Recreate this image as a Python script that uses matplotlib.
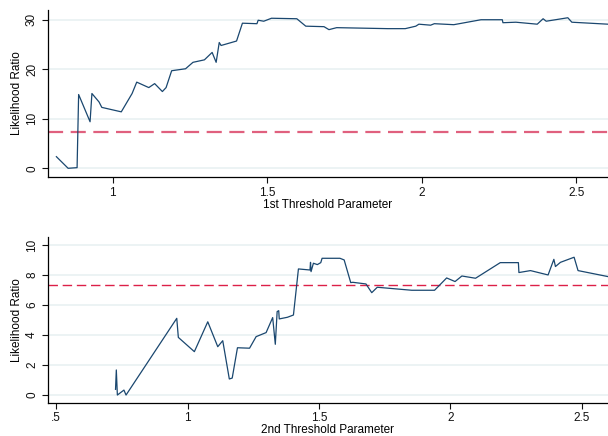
import matplotlib
matplotlib.use("Agg")
import matplotlib.pyplot as plt

plt.rcParams['font.family'] = ['Liberation Sans', 'DejaVu Sans']

# 1st threshold: parameter value vs likelihood ratio
th1 = [0.818, 0.856, 0.885, 0.890, 0.927, 0.933, 0.956, 0.965, 1.028, 1.063,
       1.078, 1.117, 1.136, 1.161, 1.173, 1.191, 1.236, 1.260, 1.297, 1.322,
       1.335, 1.345, 1.351, 1.401, 1.420, 1.467, 1.471, 1.489, 1.514, 1.596,
       1.625, 1.684, 1.700, 1.725, 1.891, 1.947, 1.981, 1.991, 2.029, 2.041,
       2.104, 2.192, 2.261, 2.263, 2.305, 2.374, 2.393, 2.403, 2.473, 2.486,
       2.603]
lr1 = [2.35, 0.0, 0.13, 14.9, 9.4, 15.1, 13.4, 12.3, 11.4, 15.1,
       17.4, 16.3, 17.1, 15.5, 16.3, 19.7, 20.1, 21.4, 21.9, 23.4,
       21.4, 25.4, 24.8, 25.7, 29.3, 29.2, 29.9, 29.7, 30.3, 30.2,
       28.7, 28.6, 28.0, 28.4, 28.2, 28.2, 28.7, 29.1, 28.9, 29.2,
       29.0, 30.0, 30.0, 29.4, 29.5, 29.1, 30.2, 29.7, 30.4, 29.5,
       29.1]

# 2nd threshold
th2 = [0.726, 0.729, 0.733, 0.758, 0.766, 0.959, 0.965, 1.026, 1.077, 1.115,
       1.134, 1.159, 1.170, 1.190, 1.236, 1.261, 1.299, 1.324, 1.334, 1.341,
       1.347, 1.349, 1.380, 1.403, 1.422, 1.466, 1.468, 1.470, 1.479, 1.494,
       1.507, 1.512, 1.580, 1.596, 1.621, 1.629, 1.679, 1.701, 1.722, 1.853,
       1.940, 1.986, 2.018, 2.044, 2.096, 2.190, 2.259, 2.261, 2.305, 2.372,
       2.394, 2.400, 2.419, 2.471, 2.486, 2.600]
lr2 = [0.38, 1.67, 0.0, 0.33, 0.0, 5.11, 3.84, 2.89, 4.88, 3.22,
       3.62, 1.07, 1.13, 3.15, 3.12, 3.89, 4.16, 5.16, 3.38, 5.56,
       5.62, 5.07, 5.18, 5.33, 8.40, 8.33, 8.84, 8.22, 8.78, 8.69,
       8.82, 9.11, 9.11, 9.00, 7.49, 7.51, 7.40, 6.82, 7.18, 6.98,
       6.98, 7.80, 7.56, 7.93, 7.78, 8.82, 8.82, 8.16, 8.29, 8.00,
       9.04, 8.56, 8.84, 9.18, 8.29, 7.89]

crit = 7.35  # critical value

fig = plt.figure(figsize=(6.08, 4.36), dpi=100)
ax1 = fig.add_axes([0.0785, 0.594, 0.9215, 0.383])
ax2 = fig.add_axes([0.0785, 0.0764, 0.9215, 0.3794])

panels = [
    (ax1, th1, lr1, [0, 10, 20, 30], (-1.76, 31.96), (0.79, 2.603),
     [1, 1.5, 2, 2.5], ['1', '1.5', '2', '2.5'], '1st Threshold Parameter',
     '#e0607e', 1.6),
    (ax2, th2, lr2, [0, 2, 4, 6, 8, 10], (-0.51, 10.51), (0.468, 2.60),
     [0.5, 1, 1.5, 2, 2.5], ['.5', '1', '1.5', '2', '2.5'], '2nd Threshold Parameter',
     '#dc2048', 1.0),
]

for ax, x, y, yt, ylim, xlim, xt, xtl, xlab, dcol, dlw in panels:
    ax.plot(x, y, color='#1a476f', lw=0.9, zorder=3)
    ax.axhline(crit, color=dcol, lw=dlw, ls=(0, (6.8, 3.4)), zorder=2)
    ax.set_xlim(*xlim)
    ax.set_ylim(*ylim)
    ax.set_yticks(yt)
    ax.set_yticklabels([str(v) for v in yt], rotation=90, va='center')
    ax.set_xticks(xt)
    ax.set_xticklabels(xtl)
    ax.grid(axis='y', color='#eaf2f3', lw=1.3, zorder=0)
    ax.set_axisbelow(True)
    for s in ['top', 'right']:
        ax.spines[s].set_visible(False)
    for s in ['left', 'bottom']:
        ax.spines[s].set_linewidth(0.9)
    ax.tick_params(direction='out', length=4, width=0.8, labelsize=8.5,
                   colors='#111111', pad=3)
    ax.set_ylabel('Likelihood Ratio', fontsize=8.5, labelpad=2)
    ax.set_xlabel(xlab, fontsize=8.5, labelpad=0)

fig.savefig('out.png', dpi=100)
